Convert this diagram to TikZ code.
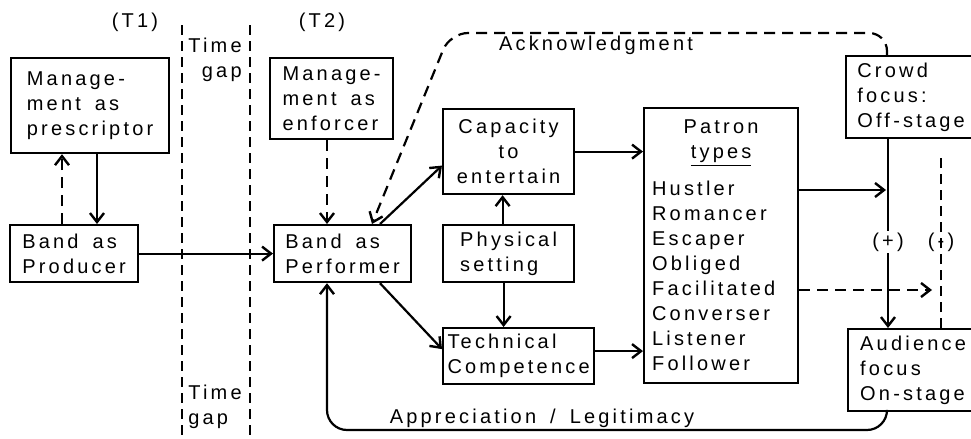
\documentclass[tikz,border=0pt]{standalone}
\usepackage{fontspec}
\setmainfont{Liberation Sans}[LetterSpace=16,WordSpace=1.6]
\usetikzlibrary{arrows.meta}

\tikzset{
  box/.style={draw, line width=1.1pt, anchor=north west, align=left, inner sep=1.5pt},
  link/.style={line width=1.1pt, -{Straight Barb[length=4.5pt,width=7pt,line width=1.2pt]}},
  dlink/.style={link, dash pattern=on 5.5pt off 3.5pt},
  gapline/.style={line width=0.9pt, dash pattern=on 5pt off 3pt},
}

\begin{document}
\begin{tikzpicture}[x=0.5pt,y=-0.5pt,font=\fontsize{10}{12.5}\selectfont]
\useasboundingbox (0,0) rectangle (971,439);

% time gap
\draw[gapline] (182,25) -- (182,439);
\draw[gapline] (250,25) -- (250,439);
\node[align=right] (gaptop) at (215,60) {Time\\gap};
\node[align=left] (gapbot) at (215,407) {Time\\gap};
\node (tone) at (135,22) {(T1)};
\node (ttwo) at (322,22) {(T2)};

% boxes
\node[box, minimum width=79pt, minimum height=47.5pt] (presc) at (10,57) {Manage-\\ment as\\prescriptor};
\node[box, minimum width=64pt, minimum height=28.5pt] (prod) at (9,224) {Band as\\Producer};
\node[box, minimum width=61.5pt, minimum height=40.5pt] (enf) at (269,57) {Manage-\\ment as\\enforcer};
\node[box, minimum width=68.5pt, minimum height=28.5pt] (perf) at (273,224) {Band as\\Performer};
\node[box, align=center, minimum width=65.5pt, minimum height=42.5pt] (cap) at (442,108) {Capacity\\to\\entertain};
\node[box, minimum width=65.5pt, minimum height=28.5pt] (phys) at (442,224) {Physical\\setting};
\node[box, minimum width=75.5pt, minimum height=28pt] (tech) at (442,327) {Technical\\Competence};
\node[box, inner xsep=4pt, text width=69pt, minimum height=137.5pt] (patron) at (643,107)
  {\centering Patron\\\underline{types}\par\vspace{6pt}\raggedright
   Hustler\\Romancer\\Escaper\\Obliged\\Facilitated\\Converser\\Listener\\Follower};
\node[box, minimum width=65pt, minimum height=41pt] (crowd) at (845,55) {Crowd\\focus:\\Off-stage};
\node[box, minimum width=65pt, minimum height=41pt] (aud) at (847,328) {Audience\\focus\\On-stage};

% connectors
\draw[dlink] ([xshift=26.5pt]prod.north west) -- ([xshift=26.5pt]prod.north west |- presc.south);
\draw[link] ([xshift=43.5pt]presc.south west) -- ([xshift=43.5pt]presc.south west |- prod.north);
\draw[link] (prod) -- (perf);
\draw[dlink] ([xshift=29pt]enf.south west) -- ([xshift=29pt]enf.south west |- perf.north);
\draw[link] ([xshift=53.5pt]perf.north west) -- ([yshift=-7pt]cap.west);
\draw[link] ([xshift=53.5pt]perf.south west) -- ([yshift=3.5pt]tech.west);
\draw[link] ([xshift=-3pt]phys.north) -- ([xshift=-3pt]phys.north |- cap.south);
\draw[link] ([xshift=-2.5pt]phys.south) -- ([xshift=-2.5pt]phys.south |- tech.north);
\draw[link] (cap.east) -- (cap.east -| patron.west);
\draw[link] ([yshift=2.5pt]tech.east) -- ([yshift=2.5pt]tech.east -| patron.west);

\coordinate (plusx) at ([xshift=21.5pt]crowd.south west);
\coordinate (minusx) at ([xshift=47pt]aud.north west);
\draw[link] (plusx) -- (plusx |- aud.north);
\draw[gapline] (minusx) -- (minusx |- 0,153);
\node[fill=white, inner sep=1pt] (plus) at (plusx |- 0,242) {(+)};
\node[inner sep=1pt] (minus) at (minusx |- 0,242) {(-)};
\draw[link, shorten >=1pt] ([yshift=-41.5pt]patron.north east) -- ([yshift=-41.5pt]patron.north east -| plusx);
\draw[dlink, shorten >=4.5pt] ([yshift=-91.5pt]patron.north east) -- ([yshift=-91.5pt]patron.north east -| minusx);

\draw[dlink, rounded corners=9pt] ([xshift=21pt]crowd.north west) |- (450,33) -- ([xshift=49.5pt]perf.north west);
\node (ack) at (596,45) {Acknowledgment};
\draw[link, rounded corners=10pt] ([xshift=20pt]aud.south west) |- (327,430) -- ([xshift=27pt]perf.south west);
\node (appr) at (542,418) {Appreciation / Legitimacy};
\end{tikzpicture}
\end{document}
